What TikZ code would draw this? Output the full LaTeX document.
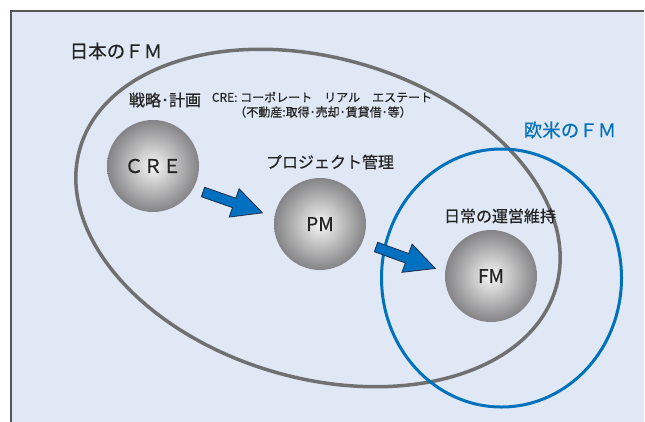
\documentclass[tikz,border=0pt]{standalone}
\usepackage{fontspec}
\setmainfont{Noto Sans CJK JP}
\newfontfamily\medfont[FakeBold=0.35]{Noto Sans CJK JP}
\newfontfamily\boldishfont[FakeBold=0.8]{Noto Sans CJK JP}
\definecolor{bgblue}{RGB}{224,232,245}
\definecolor{framegray}{RGB}{85,85,85}
\definecolor{ellgray}{RGB}{112,112,112}
\definecolor{fmblue}{RGB}{0,114,188}
\definecolor{arrowblue}{RGB}{0,112,192}
\definecolor{arrowedge}{RGB}{30,45,75}
\definecolor{ballin}{RGB}{246,246,246}
\definecolor{ballout}{RGB}{132,132,134}
\definecolor{txt}{RGB}{35,35,35}
\tikzset{
  blockarrow/.pic={
    \filldraw[fill=arrowblue, draw=arrowedge, line width=0.8pt, line join=miter]
      (0,-5) -- (33,-5) -- (33,-15) -- (63,0) -- (33,15) -- (33,5) -- (0,5) -- cycle;
  }
}
\begin{document}
\begin{tikzpicture}[x=1pt,y=-1pt,
  ball/.style={circle, minimum size=92pt, inner sep=0pt, inner color=ballin, outer color=ballout, text=txt, font=\medfont\fontsize{19}{19}\selectfont},
  bigtitle/.style={font=\medfont\fontsize{18.5}{20}\selectfont, text=txt, inner sep=0pt},
  midtitle/.style={font=\medfont\fontsize{16}{18}\selectfont, text=txt, inner sep=0pt},
  smalltext/.style={font=\medfont\fontsize{12}{14}\selectfont, text=txt, inner sep=0pt},
  ringgray/.style={draw=ellgray, line width=3.5pt},
  ringblue/.style={draw=fmblue, line width=3pt}
]
\useasboundingbox (0,0) rectangle (645,421);
\begin{scope}
\clip (0,0) rectangle (645,421);
\fill[white] (0,0) rectangle (645,421);
\fill[bgblue] (11,11) rectangle (644,440);
\draw[framegray, line width=1.5pt] (11,440) -- (11,11) -- (644,11);
\end{scope}

% ellipses
\draw[ringgray, rotate around={-16.4:(318,218)}] (318,218) ellipse [x radius=248pt, y radius=160pt];
\draw[ringblue] (501.5,278) ellipse [x radius=120pt, y radius=129pt];

% balls
\node[ball] (cre) at (153,166) {ＣＲＥ};
\node[ball] (pm) at (320,224) {PM};
\node[ball] (fm) at (491,276) {FM};

% arrows
\pic[rotate=-19.3] at (203,192) {blockarrow};
\pic[rotate=-19.9] at (376,247) {blockarrow};

% labels
\node[bigtitle] (jpfm) at (116,51) {日本のＦＭ};
\node[midtitle, font=\boldishfont\fontsize{16}{18}\selectfont] (plan) at (165,100) {戦略･計画};
\node[smalltext] (cre1) at (322,97) {CRE: コーポレート　リアル　エステート};
\node[smalltext] (cre2) at (323,112) {（不動産:取得･売却･賃貸借･等）};
\node[midtitle] (pmlab) at (330,162) {プロジェクト管理};
\node[bigtitle, text=fmblue] (eufm) at (570,130) {欧米のＦＭ};
\node[midtitle] (fmlab) at (500,216) {日常の運営維持};
\end{tikzpicture}
\end{document}
